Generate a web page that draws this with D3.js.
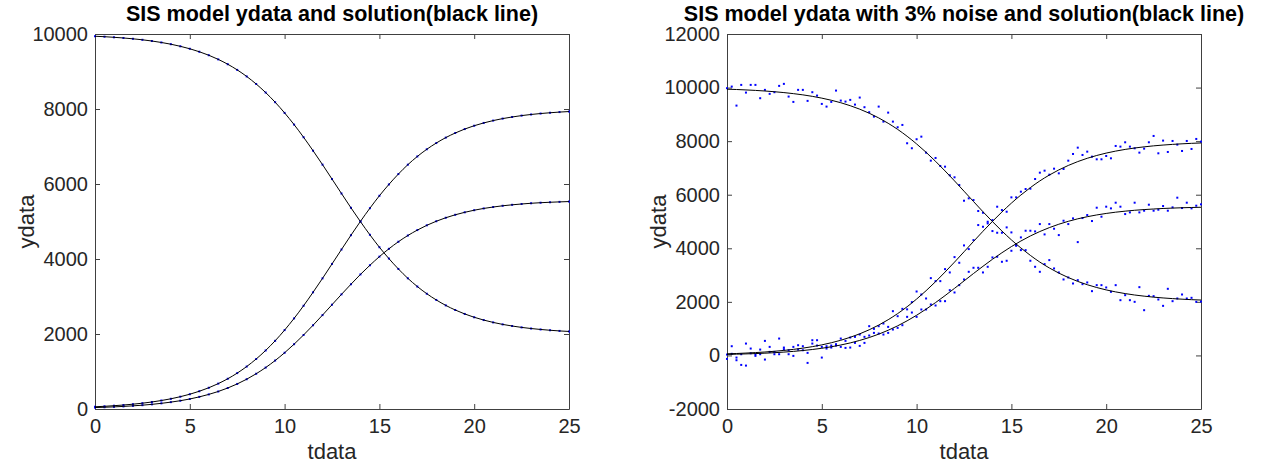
<!DOCTYPE html>
<html>
<head>
<meta charset="utf-8">
<script src="https://cdn.jsdelivr.net/npm/d3@7"></script>
<style>
  body { margin: 0; background: #fff; }
  svg { font-family: "Liberation Sans", Arial, Helvetica, sans-serif; }
  .axis path, .axis line { stroke: #404040; }
  .axis text { fill: #262626; font-size: 20px; }
</style>
</head>
<body>
<div id="chart"></div>
<script>
// time grids
let tSmooth = d3.range(0, 25.001, 0.5);
let tNoisy = d3.range(0, 25.001, 0.25);

// model solution (black lines), read at t = 0, 0.5, ..., 25
let solS = [9940, 9928, 9912, 9894, 9872, 9845, 9813, 9774, 9728, 9672,
    9606, 9527, 9434, 9323, 9194, 9043, 8868, 8667, 8439, 8182,
    7896, 7584, 7247, 6888, 6516, 6132, 5747, 5365, 4997, 4645,
    4314, 4012, 3735, 3485, 3266, 3074, 2908, 2763, 2640, 2535,
    2446, 2372, 2309, 2256, 2213, 2176, 2146, 2121, 2100, 2082, 2068];
let solI1 = [60, 72, 88, 106, 128, 155, 187, 226, 272, 328,
    394, 473, 566, 677, 806, 957, 1132, 1333, 1561, 1818,
    2104, 2416, 2753, 3112, 3484, 3868, 4253, 4635, 5003, 5355,
    5686, 5988, 6265, 6515, 6734, 6926, 7092, 7237, 7360, 7465,
    7554, 7628, 7691, 7744, 7787, 7824, 7854, 7879, 7900, 7918, 7932];
let solI2 = [38, 47, 57, 69, 84, 102, 124, 151, 183, 221,
    267, 323, 389, 467, 560, 668, 794, 940, 1105, 1292,
    1500, 1728, 1973, 2233, 2504, 2781, 3057, 3327, 3589, 3833,
    4063, 4271, 4460, 4626, 4771, 4898, 5007, 5100, 5179, 5245,
    5301, 5348, 5386, 5419, 5445, 5467, 5486, 5501, 5513, 5523, 5532];

// noisy data (blue dots, right panel), t = 0, 0.25, ..., 25
let noisyS = [9977, 10037, 9327, 10100, 9813, 10100, 10100, 9603, 9914, 9765,
    9827, 10063, 10138, 9664, 9465, 9914, 9914, 9503, 9827, 9701,
    9390, 9290, 9465, 9888, 9514, 9477, 9540, 9365, 9627, 9267,
    9080, 8916, 9290, 8729, 9065, 8729, 8519, 8605, 7921, 7735,
    8071, 8168, 7570, 7271, 7372, 7073, 7047, 6725, 6650, 6363,
    5776, 5865, 5802, 5391, 5327, 4991, 4643, 4580, 4580, 4780,
    4593, 4119, 3932, 3932, 3534, 3309, 3122, 3409, 3559, 3247,
    3098, 2836, 2911, 2686, 2811, 2661, 2724, 2400, 2624, 2624,
    2537, 2375, 2624, 2063, 2250, 2063, 2001, 2549, 1689, 2225,
    2213, 2088, 1851, 2487, 2026, 2126, 2275, 2126, 2151, 2001, 2013];
let noisyI1 = [32, 344, -80, 45, 443, 257, 45, 219, 543, 319,
    45, 630, 294, 194, 319, 381, 344, 95, 568, 568,
    319, 344, 369, 419, 630, 543, 668, 693, 780, 693,
    1092, 992, 1092, 1191, 1066, 1652, 1465, 1739, 1720, 1989,
    2387, 2275, 2126, 2886, 2774, 2774, 3222, 3098, 3671, 3459,
    4107, 3970, 4306, 4867, 4804, 4929, 5054, 5552, 5428, 5365,
    5901, 5901, 6113, 6213, 6225, 6586, 6823, 6898, 6748, 6972,
    6798, 6960, 7271, 7521, 7757, 7484, 7608, 7421, 7322, 7322,
    7446, 7359, 7820, 7795, 7957, 7795, 7733, 7571, 7720, 7957,
    8194, 7546, 8020, 7596, 8007, 7870, 7633, 8007, 7708, 8082, 7982];
let noisyI2 = [-130, 60, -179, -354, -379, 80, -17, 45, -154, 132,
    132, 45, 232, 45, -17, 219, 194, -279, 443, 369,
    -80, 257, 294, 369, 319, 281, 294, 468, 356, 468,
    743, 842, 818, 780, 842, 967, 1029, 1129, 1440, 1602,
    1440, 1715, 1715, 1902, 1864, 2026, 2026, 2437, 2350, 2624,
    2836, 3122, 3272, 3272, 3098, 3309, 3658, 3683, 3496, 3534,
    3907, 4094, 4406, 4655, 4655, 4630, 4904, 4518, 4904, 4730,
    4493, 5029, 4904, 5116, 4231, 5129, 5241, 5017, 5515, 5179,
    5553, 5490, 5702, 5553, 5278, 5340, 5702, 5340, 5403, 5627,
    5403, 5440, 5577, 5403, 5528, 5889, 5503, 5702, 5490, 5590, 5640];

let xTicks = [0, 5, 10, 15, 20, 25];
let yTicksLeft = [0, 2000, 4000, 6000, 8000, 10000];
let yTicksRight = [-2000, 0, 2000, 4000, 6000, 8000, 10000, 12000];

let titleLeft = 'SIS model ydata and solution(black line)';
let titleRight = 'SIS model ydata with 3% noise and solution(black line)';

let width = 1264;
let height = 469;

let svg = d3.select('#chart')
    .append('svg')
    .attr('width', width)
    .attr('height', height);

let plotTop = 34;
let plotHeight = 375;
let plotWidth = 474;

function drawPanel(left, yDomain, yTicks, title, dotSets, dotT) {
    let g = svg.append('g')
        .attr('transform', `translate(${left},${plotTop})`);

    let xScale = d3.scaleLinear().domain([0, 25]).range([0, plotWidth]);
    let yScale = d3.scaleLinear().domain(yDomain).range([plotHeight, 0]);
    let fmt = d3.format('d');

    // box with inward ticks on all four sides
    g.append('g').classed('axis', true)
        .attr('transform', `translate(0,${plotHeight})`)
        .call(d3.axisBottom(xScale).tickValues(xTicks).tickFormat(fmt).tickSizeInner(-5).tickSizeOuter(0).tickPadding(10));
    g.append('g').classed('axis', true)
        .call(d3.axisTop(xScale).tickValues(xTicks).tickSizeInner(-5).tickSizeOuter(0).tickFormat(''));
    g.append('g').classed('axis', true)
        .call(d3.axisLeft(yScale).tickValues(yTicks).tickFormat(d => fmt(d).replace('\u2212', '-')).tickSizeInner(-5).tickSizeOuter(0).tickPadding(7));
    g.append('g').classed('axis', true)
        .attr('transform', `translate(${plotWidth},0)`)
        .call(d3.axisRight(yScale).tickValues(yTicks).tickSizeInner(-5).tickSizeOuter(0).tickFormat(''));

    // blue data points
    dotSets.forEach(vals => {
        g.append('g').selectAll('rect')
            .data(vals)
            .enter()
            .append('rect')
            .attr('x', (d, i) => xScale(dotT[i]) - 1)
            .attr('y', d => yScale(d) - 1)
            .attr('width', 2)
            .attr('height', 2)
            .attr('fill', '#0000ff');
    });

    // black solution lines
    let line = d3.line()
        .x((d, i) => xScale(tSmooth[i]))
        .y(d => yScale(d))
        .curve(d3.curveMonotoneX);
    [solS, solI1, solI2].forEach(vals => {
        g.append('path')
            .attr('d', line(vals))
            .attr('fill', 'none')
            .attr('stroke', '#000')
            .attr('stroke-width', 1);
    });

    g.append('text')
        .attr('x', plotWidth / 2)
        .attr('y', -13)
        .attr('text-anchor', 'middle')
        .attr('font-size', '21.5px')
        .attr('font-weight', 'bold')
        .attr('fill', '#000')
        .text(title);

    g.append('text')
        .attr('x', plotWidth / 2)
        .attr('y', plotHeight + 50)
        .attr('text-anchor', 'middle')
        .attr('font-size', '22px')
        .attr('fill', '#262626')
        .text('tdata');

    g.append('text')
        .attr('transform', `translate(-61,${plotHeight / 2}) rotate(-90)`)
        .attr('text-anchor', 'middle')
        .attr('font-size', '22px')
        .attr('fill', '#262626')
        .text('ydata');
}

drawPanel(95, [0, 10000], yTicksLeft, titleLeft, [solS, solI1, solI2], tSmooth);
drawPanel(727, [-2000, 12000], yTicksRight, titleRight, [noisyS, noisyI1, noisyI2], tNoisy);
</script>
</body>
</html>
